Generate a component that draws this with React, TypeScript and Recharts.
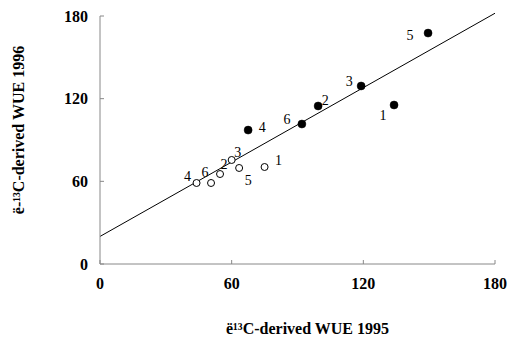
import React from 'react';
import { ScatterChart, Scatter, XAxis, YAxis, ReferenceLine, LabelList, Label } from 'recharts';

// Open-circle series
const openIds = [1, 2, 3, 4, 5, 6];
const openX = [75, 54.7, 60, 44, 63.4, 50.6];
const openY = [70.4, 65.3, 75.5, 58.8, 69.7, 58.8];

// Filled-circle series
const filledIds = [1, 2, 3, 4, 5, 6];
const filledX = [134, 99.4, 119, 67.5, 149.5, 92];
const filledY = [115.4, 114.7, 129.2, 97.2, 167.6, 101.6];

// Regression line endpoints (data space)
const fitX = [0, 180];
const fitY = [20, 182];

const ticks = [0, 60, 120, 180];
const xTitle = 'ë¹³C-derived WUE 1995';
const yTitle = 'ë-¹³C-derived WUE 1996';

const openData = openIds.map((id, i) => ({ id, x: openX[i], y: openY[i] }));
const filledData = filledIds.map((id, i) => ({ id, x: filledX[i], y: filledY[i] }));

const openOffsets: Record<number, [number, number]> = {
  1: [14, -7], 2: [4, -10], 3: [6, -7], 4: [-9, -6], 5: [9, 13], 6: [-6, -10],
};
const filledOffsets: Record<number, [number, number]> = {
  1: [-11, 10], 2: [7, -5], 3: [-12, -4], 4: [14, -3], 5: [-18, 2], 6: [-15, -5],
};

const SERIF = '"Liberation Serif", "DejaVu Serif", serif';

const makeLabel = (offsets: Record<number, [number, number]>) => (props: any) => {
  const { x, y, width, height, value } = props;
  const cx = x + (width || 0) / 2;
  const cy = y + (height || 0) / 2;
  const o = offsets[value] || [0, 0];
  return (
    <text x={cx + o[0]} y={cy + o[1]} textAnchor="middle" dominantBaseline="central"
      style={{ fontFamily: SERIF, fontSize: 14, fill: '#000' }}>
      {value}
    </text>
  );
};

const OpenDot = (p: any) => <circle cx={p.cx} cy={p.cy} r={3.5} fill="#fff" stroke="#000" strokeWidth={1} />;
const FilledDot = (p: any) => <circle cx={p.cx} cy={p.cy} r={4} fill="#000" stroke="#000" strokeWidth={0.5} />;

const XTick = (p: any) => (
  <text x={p.x} y={p.y} textAnchor="middle" dominantBaseline="hanging"
    style={{ fontFamily: SERIF, fontSize: 16, fontWeight: 'bold', fill: '#000' }}>
    {p.payload.value}
  </text>
);
const YTick = (p: any) => (
  <text x={p.x} y={p.y} textAnchor="end" dominantBaseline="central"
    style={{ fontFamily: SERIF, fontSize: 16, fontWeight: 'bold', fill: '#000' }}>
    {p.payload.value}
  </text>
);

export default function App() {
  return (
    <div style={{ position: 'absolute', left: 0, top: 0, background: '#fff' }}>
      <ScatterChart width={511} height={343} margin={{ top: 16, right: 16, bottom: 0, left: 0 }}>
        <XAxis type="number" dataKey="x" domain={[0, 180]} ticks={ticks} height={79}
          axisLine={{ stroke: '#888' }} tickLine={{ stroke: '#888' }} tickSize={-4} tickMargin={18}
          tick={XTick} allowDataOverflow>
          <Label value={xTitle} position="insideBottom" offset={9}
            style={{ fontFamily: SERIF, fontSize: 16, fontWeight: 'bold', fill: '#000' }} dx={10} />
        </XAxis>
        <YAxis type="number" dataKey="y" domain={[0, 180]} ticks={ticks} width={100}
          axisLine={{ stroke: '#888' }} tickLine={{ stroke: '#888' }} tickSize={-4} tickMargin={16}
          tick={YTick} allowDataOverflow>
          <Label value={yTitle} angle={-90} position="insideLeft" offset={18}
            style={{ fontFamily: SERIF, fontSize: 16, fontWeight: 'bold', fill: '#000', textAnchor: 'middle' }} dy={-10} />
        </YAxis>
        <ReferenceLine segment={[{ x: fitX[0], y: fitY[0] }, { x: fitX[1], y: fitY[1] }]}
          stroke="#000" strokeWidth={1} ifOverflow="visible" />
        <Scatter data={openData} shape={OpenDot} isAnimationActive={false}>
          <LabelList dataKey="id" content={makeLabel(openOffsets)} />
        </Scatter>
        <Scatter data={filledData} shape={FilledDot} isAnimationActive={false}>
          <LabelList dataKey="id" content={makeLabel(filledOffsets)} />
        </Scatter>
      </ScatterChart>
    </div>
  );
}
